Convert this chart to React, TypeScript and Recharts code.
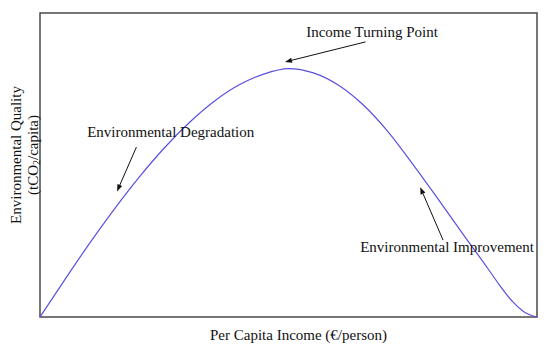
import { LineChart, Line, XAxis, YAxis, ReferenceArea, ReferenceLine, ReferenceDot } from "recharts";

// curve, income as % of range, quality as % of box height
const income = [0, 5, 10, 15, 20, 25, 30, 35, 40, 45, 50, 55, 60, 65, 70, 75, 80, 85, 90, 92.5, 95, 97.5, 100];
const quality = [0, 12.3, 24.3, 35.6, 46.1, 55.6, 63.9, 70.9, 76.3, 79.9, 81.7, 80.3, 76.3, 69.8, 61, 50.3, 39, 27.5, 16.2, 10.4, 5.2, 1.6, 0];

// annotation texts and their arrows (tail -> tip), in data units
const notes = [
  { text: "Income Turning Point", x: 66.8, y: 93.8 },
  { text: "Environmental Degradation", x: 26.3, y: 60.9 },
  { text: "Environmental Improvement", x: 81.9, y: 22.9 },
];
const arrows = [
  { from: [65.5, 90.5], to: [49.3, 83.9] },
  { from: [19.4, 55.9], to: [15.5, 41.3] },
  { from: [81.1, 25.3], to: [76.5, 42.7] },
];

const data = income.map((x, i) => ({ x, q: quality[i] }));

const FONT = "'Liberation Serif', 'Times New Roman', serif";

const Arrow = (p: any) => {
  const { x1, y1, x2, y2 } = p;
  const a = Math.atan2(y2 - y1, x2 - x1);
  const len = 7;
  const w = 2.6;
  const bx = x2 - len * Math.cos(a);
  const by = y2 - len * Math.sin(a);
  const pts = [
    `${x2},${y2}`,
    `${bx + w * Math.sin(a)},${by - w * Math.cos(a)}`,
    `${bx - w * Math.sin(a)},${by + w * Math.cos(a)}`,
  ].join(" ");
  return (
    <g>
      <line x1={x1} y1={y1} x2={bx} y2={by} stroke="#111" strokeWidth={1} />
      <polygon points={pts} fill="#111" />
    </g>
  );
};

const NoteLabel = (text: string) => (p: any) => {
  const vb = p.viewBox;
  return (
    <text x={vb.x} y={vb.y} textAnchor="middle" dominantBaseline="central" fontFamily={FONT} fontSize={15} fill="#111">
      {text}
    </text>
  );
};

const XTitle = (p: any) => {
  const vb = p.viewBox;
  return (
    <text x={vb.x + vb.width / 2 + 10} y={vb.y + 18} textAnchor="middle" dominantBaseline="central" fontFamily={FONT} fontSize={15} fill="#111">
      Per Capita Income (€/person)
    </text>
  );
};

const YTitle = (p: any) => {
  const vb = p.viewBox;
  const cy = vb.y + vb.height / 2 - 10;
  return (
    <g fontFamily={FONT} fontSize={15} fill="#111">
      <text x={16} y={cy} textAnchor="middle" dominantBaseline="central" transform={`rotate(-90 16 ${cy})`}>
        Environmental Quality
      </text>
      <text x={33} y={cy} textAnchor="middle" dominantBaseline="central" transform={`rotate(-90 33 ${cy})`}>
        (tCO<tspan fontSize={10} dy={3}>2</tspan><tspan dy={-3}>/capita)</tspan>
      </text>
    </g>
  );
};

export default function App() {
  return (
    <div style={{ position: "absolute", left: 0, top: 0, background: "#fff" }}>
      <LineChart width={550} height={352} data={data} margin={{ top: 13, right: 13, bottom: 0, left: 0 }}>
        <XAxis dataKey="x" type="number" domain={[0, 100]} tick={false} tickLine={false} axisLine={false} height={35} label={<XTitle />} />
        <YAxis type="number" domain={[0, 100]} tick={false} tickLine={false} axisLine={false} width={40} label={<YTitle />} />
        <ReferenceArea x1={0} x2={100} y1={0} y2={100} fill="none" fillOpacity={0} stroke="#4a4a4a" strokeWidth={1.5} />
        <Line dataKey="q" type="monotone" stroke="#5a50e0" strokeWidth={1.2} dot={false} isAnimationActive={false} />
        {arrows.map((a, i) => (
          <ReferenceLine
            key={`ar-${i}`}
            segment={[{ x: a.from[0], y: a.from[1] }, { x: a.to[0], y: a.to[1] }]}
            shape={Arrow}
          />
        ))}
        {notes.map((n, i) => (
          <ReferenceDot key={`nt-${i}`} x={n.x} y={n.y} r={0} fill="none" stroke="none" label={NoteLabel(n.text)} />
        ))}
      </LineChart>
    </div>
  );
}
